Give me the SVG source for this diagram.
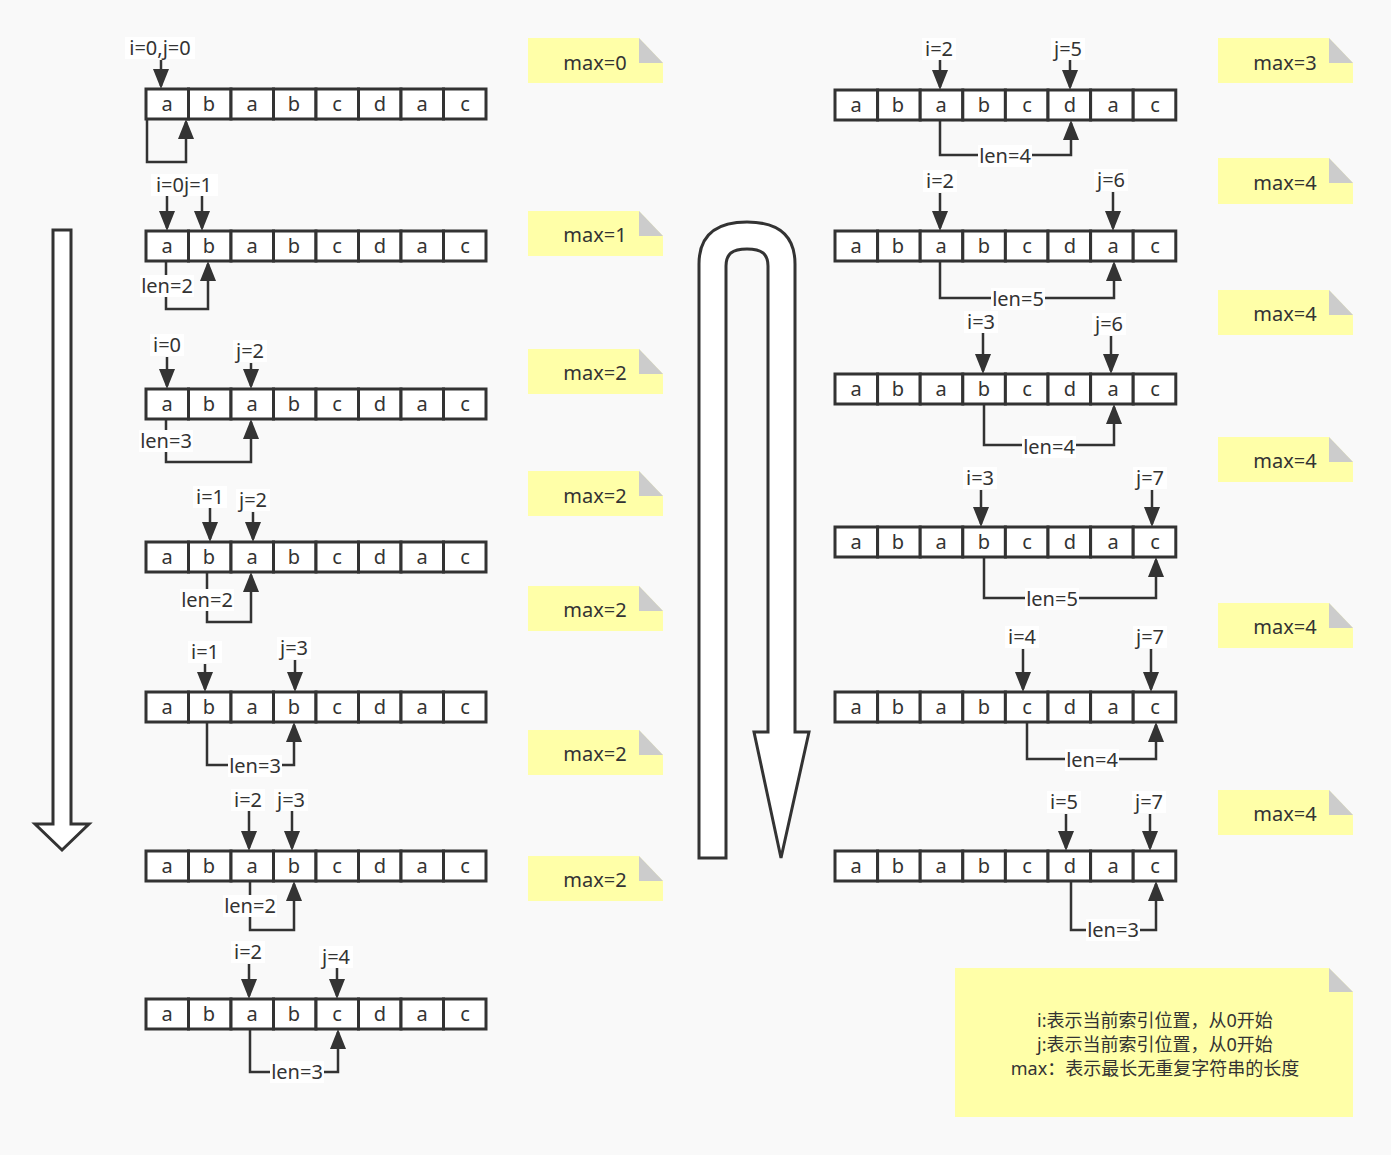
<svg xmlns="http://www.w3.org/2000/svg" width="1391" height="1155" viewBox="0 0 1391 1155">
<defs>
<style>
text{font-family:"Noto Sans","Noto Sans CJK SC",sans-serif;font-size:20px;fill:#333;text-anchor:middle}
.lg{font-size:18px}
.cell{fill:#fff;stroke:#333;stroke-width:3}
.note{fill:#ffffa8}
.fold{fill:#cccccc}
.lb{fill:#fff}
.edge{fill:none;stroke:#333;stroke-width:2.5;marker-end:url(#ah)}
.big{fill:#fff;stroke:#333;stroke-width:3;stroke-linejoin:miter}
</style>
<marker id="ah" viewBox="0 0 20 16" refX="17" refY="8" markerWidth="20" markerHeight="16" markerUnits="userSpaceOnUse" orient="auto">
<path d="M0,0 L20,8 L0,16 Z" fill="#333"/>
</marker>
</defs>
<rect width="1391" height="1155" fill="#f9f9f9"/>

<!-- big arrows -->
<g id="flow-left"><path class="big" d="M53,230 H71 V824 H89 L62,850 L35,824 H53 Z"/></g>
<g id="flow-u"><path class="big" d="M699,858 V264 C699,234 718,222 747,222 C776,222 795,234 795,264 V732 H809 L781,858 L754,732 H768 V266 C768,254 762,249 747,249 C732,249 726,254 726,266 V858 Z"/></g>

<!-- left arrays -->
<g id="arrL1">
<rect class="cell" x="146" y="89" width="42.5" height="30"/><rect class="cell" x="188.5" y="89" width="42.5" height="30"/><rect class="cell" x="231" y="89" width="42.5" height="30"/><rect class="cell" x="273.5" y="89" width="42.5" height="30"/><rect class="cell" x="316" y="89" width="42.5" height="30"/><rect class="cell" x="358.5" y="89" width="42.5" height="30"/><rect class="cell" x="401" y="89" width="42.5" height="30"/><rect class="cell" x="443.5" y="89" width="42.5" height="30"/>
<text x="167" y="111">a</text><text x="209" y="111">b</text><text x="252" y="111">a</text><text x="294" y="111">b</text><text x="337" y="111">c</text><text x="380" y="111">d</text><text x="422" y="111">a</text><text x="465" y="111">c</text>
</g>
<g id="arrL2">
<rect class="cell" x="146" y="231" width="42.5" height="30"/><rect class="cell" x="188.5" y="231" width="42.5" height="30"/><rect class="cell" x="231" y="231" width="42.5" height="30"/><rect class="cell" x="273.5" y="231" width="42.5" height="30"/><rect class="cell" x="316" y="231" width="42.5" height="30"/><rect class="cell" x="358.5" y="231" width="42.5" height="30"/><rect class="cell" x="401" y="231" width="42.5" height="30"/><rect class="cell" x="443.5" y="231" width="42.5" height="30"/>
<text x="167" y="253">a</text><text x="209" y="253">b</text><text x="252" y="253">a</text><text x="294" y="253">b</text><text x="337" y="253">c</text><text x="380" y="253">d</text><text x="422" y="253">a</text><text x="465" y="253">c</text>
</g>
<g id="arrL3">
<rect class="cell" x="146" y="389" width="42.5" height="30"/><rect class="cell" x="188.5" y="389" width="42.5" height="30"/><rect class="cell" x="231" y="389" width="42.5" height="30"/><rect class="cell" x="273.5" y="389" width="42.5" height="30"/><rect class="cell" x="316" y="389" width="42.5" height="30"/><rect class="cell" x="358.5" y="389" width="42.5" height="30"/><rect class="cell" x="401" y="389" width="42.5" height="30"/><rect class="cell" x="443.5" y="389" width="42.5" height="30"/>
<text x="167" y="411">a</text><text x="209" y="411">b</text><text x="252" y="411">a</text><text x="294" y="411">b</text><text x="337" y="411">c</text><text x="380" y="411">d</text><text x="422" y="411">a</text><text x="465" y="411">c</text>
</g>
<g id="arrL4">
<rect class="cell" x="146" y="542" width="42.5" height="30"/><rect class="cell" x="188.5" y="542" width="42.5" height="30"/><rect class="cell" x="231" y="542" width="42.5" height="30"/><rect class="cell" x="273.5" y="542" width="42.5" height="30"/><rect class="cell" x="316" y="542" width="42.5" height="30"/><rect class="cell" x="358.5" y="542" width="42.5" height="30"/><rect class="cell" x="401" y="542" width="42.5" height="30"/><rect class="cell" x="443.5" y="542" width="42.5" height="30"/>
<text x="167" y="564">a</text><text x="209" y="564">b</text><text x="252" y="564">a</text><text x="294" y="564">b</text><text x="337" y="564">c</text><text x="380" y="564">d</text><text x="422" y="564">a</text><text x="465" y="564">c</text>
</g>
<g id="arrL5">
<rect class="cell" x="146" y="692" width="42.5" height="30"/><rect class="cell" x="188.5" y="692" width="42.5" height="30"/><rect class="cell" x="231" y="692" width="42.5" height="30"/><rect class="cell" x="273.5" y="692" width="42.5" height="30"/><rect class="cell" x="316" y="692" width="42.5" height="30"/><rect class="cell" x="358.5" y="692" width="42.5" height="30"/><rect class="cell" x="401" y="692" width="42.5" height="30"/><rect class="cell" x="443.5" y="692" width="42.5" height="30"/>
<text x="167" y="714">a</text><text x="209" y="714">b</text><text x="252" y="714">a</text><text x="294" y="714">b</text><text x="337" y="714">c</text><text x="380" y="714">d</text><text x="422" y="714">a</text><text x="465" y="714">c</text>
</g>
<g id="arrL6">
<rect class="cell" x="146" y="851" width="42.5" height="30"/><rect class="cell" x="188.5" y="851" width="42.5" height="30"/><rect class="cell" x="231" y="851" width="42.5" height="30"/><rect class="cell" x="273.5" y="851" width="42.5" height="30"/><rect class="cell" x="316" y="851" width="42.5" height="30"/><rect class="cell" x="358.5" y="851" width="42.5" height="30"/><rect class="cell" x="401" y="851" width="42.5" height="30"/><rect class="cell" x="443.5" y="851" width="42.5" height="30"/>
<text x="167" y="873">a</text><text x="209" y="873">b</text><text x="252" y="873">a</text><text x="294" y="873">b</text><text x="337" y="873">c</text><text x="380" y="873">d</text><text x="422" y="873">a</text><text x="465" y="873">c</text>
</g>
<g id="arrL7">
<rect class="cell" x="146" y="999" width="42.5" height="30"/><rect class="cell" x="188.5" y="999" width="42.5" height="30"/><rect class="cell" x="231" y="999" width="42.5" height="30"/><rect class="cell" x="273.5" y="999" width="42.5" height="30"/><rect class="cell" x="316" y="999" width="42.5" height="30"/><rect class="cell" x="358.5" y="999" width="42.5" height="30"/><rect class="cell" x="401" y="999" width="42.5" height="30"/><rect class="cell" x="443.5" y="999" width="42.5" height="30"/>
<text x="167" y="1021">a</text><text x="209" y="1021">b</text><text x="252" y="1021">a</text><text x="294" y="1021">b</text><text x="337" y="1021">c</text><text x="380" y="1021">d</text><text x="422" y="1021">a</text><text x="465" y="1021">c</text>
</g>

<!-- right arrays -->
<g id="arrR1">
<rect class="cell" x="835" y="90" width="42.6" height="30"/><rect class="cell" x="877.6" y="90" width="42.6" height="30"/><rect class="cell" x="920.2" y="90" width="42.6" height="30"/><rect class="cell" x="962.8" y="90" width="42.6" height="30"/><rect class="cell" x="1005.4" y="90" width="42.6" height="30"/><rect class="cell" x="1048" y="90" width="42.6" height="30"/><rect class="cell" x="1090.6" y="90" width="42.6" height="30"/><rect class="cell" x="1133.2" y="90" width="42.6" height="30"/>
<text x="856" y="112">a</text><text x="898" y="112">b</text><text x="941" y="112">a</text><text x="984" y="112">b</text><text x="1027" y="112">c</text><text x="1070" y="112">d</text><text x="1113" y="112">a</text><text x="1155" y="112">c</text>
</g>
<g id="arrR2">
<rect class="cell" x="835" y="231" width="42.6" height="30"/><rect class="cell" x="877.6" y="231" width="42.6" height="30"/><rect class="cell" x="920.2" y="231" width="42.6" height="30"/><rect class="cell" x="962.8" y="231" width="42.6" height="30"/><rect class="cell" x="1005.4" y="231" width="42.6" height="30"/><rect class="cell" x="1048" y="231" width="42.6" height="30"/><rect class="cell" x="1090.6" y="231" width="42.6" height="30"/><rect class="cell" x="1133.2" y="231" width="42.6" height="30"/>
<text x="856" y="253">a</text><text x="898" y="253">b</text><text x="941" y="253">a</text><text x="984" y="253">b</text><text x="1027" y="253">c</text><text x="1070" y="253">d</text><text x="1113" y="253">a</text><text x="1155" y="253">c</text>
</g>
<g id="arrR3">
<rect class="cell" x="835" y="374" width="42.6" height="30"/><rect class="cell" x="877.6" y="374" width="42.6" height="30"/><rect class="cell" x="920.2" y="374" width="42.6" height="30"/><rect class="cell" x="962.8" y="374" width="42.6" height="30"/><rect class="cell" x="1005.4" y="374" width="42.6" height="30"/><rect class="cell" x="1048" y="374" width="42.6" height="30"/><rect class="cell" x="1090.6" y="374" width="42.6" height="30"/><rect class="cell" x="1133.2" y="374" width="42.6" height="30"/>
<text x="856" y="396">a</text><text x="898" y="396">b</text><text x="941" y="396">a</text><text x="984" y="396">b</text><text x="1027" y="396">c</text><text x="1070" y="396">d</text><text x="1113" y="396">a</text><text x="1155" y="396">c</text>
</g>
<g id="arrR4">
<rect class="cell" x="835" y="527" width="42.6" height="30"/><rect class="cell" x="877.6" y="527" width="42.6" height="30"/><rect class="cell" x="920.2" y="527" width="42.6" height="30"/><rect class="cell" x="962.8" y="527" width="42.6" height="30"/><rect class="cell" x="1005.4" y="527" width="42.6" height="30"/><rect class="cell" x="1048" y="527" width="42.6" height="30"/><rect class="cell" x="1090.6" y="527" width="42.6" height="30"/><rect class="cell" x="1133.2" y="527" width="42.6" height="30"/>
<text x="856" y="549">a</text><text x="898" y="549">b</text><text x="941" y="549">a</text><text x="984" y="549">b</text><text x="1027" y="549">c</text><text x="1070" y="549">d</text><text x="1113" y="549">a</text><text x="1155" y="549">c</text>
</g>
<g id="arrR5">
<rect class="cell" x="835" y="692" width="42.6" height="30"/><rect class="cell" x="877.6" y="692" width="42.6" height="30"/><rect class="cell" x="920.2" y="692" width="42.6" height="30"/><rect class="cell" x="962.8" y="692" width="42.6" height="30"/><rect class="cell" x="1005.4" y="692" width="42.6" height="30"/><rect class="cell" x="1048" y="692" width="42.6" height="30"/><rect class="cell" x="1090.6" y="692" width="42.6" height="30"/><rect class="cell" x="1133.2" y="692" width="42.6" height="30"/>
<text x="856" y="714">a</text><text x="898" y="714">b</text><text x="941" y="714">a</text><text x="984" y="714">b</text><text x="1027" y="714">c</text><text x="1070" y="714">d</text><text x="1113" y="714">a</text><text x="1155" y="714">c</text>
</g>
<g id="arrR6">
<rect class="cell" x="835" y="851" width="42.6" height="30"/><rect class="cell" x="877.6" y="851" width="42.6" height="30"/><rect class="cell" x="920.2" y="851" width="42.6" height="30"/><rect class="cell" x="962.8" y="851" width="42.6" height="30"/><rect class="cell" x="1005.4" y="851" width="42.6" height="30"/><rect class="cell" x="1048" y="851" width="42.6" height="30"/><rect class="cell" x="1090.6" y="851" width="42.6" height="30"/><rect class="cell" x="1133.2" y="851" width="42.6" height="30"/>
<text x="856" y="873">a</text><text x="898" y="873">b</text><text x="941" y="873">a</text><text x="984" y="873">b</text><text x="1027" y="873">c</text><text x="1070" y="873">d</text><text x="1113" y="873">a</text><text x="1155" y="873">c</text>
</g>

<!-- connectors -->
<g id="connectors">
<path class="edge" d="M161,60 V86"/><path class="edge" d="M147,119 V162 H186 V122"/>
<path class="edge" d="M167,195 V228"/><path class="edge" d="M202,195 V228"/><path class="edge" d="M166,261 V309 H208 V264"/>
<path class="edge" d="M167,357 V386"/><path class="edge" d="M251,363 V386"/><path class="edge" d="M166,419 V462 H251 V422"/>
<path class="edge" d="M210,508 V539"/><path class="edge" d="M253,512 V539"/><path class="edge" d="M207,572 V622 H251 V575"/>
<path class="edge" d="M205,664 V689"/><path class="edge" d="M295,660 V689"/><path class="edge" d="M207,722 V765 H294 V725"/>
<path class="edge" d="M249,811 V848"/><path class="edge" d="M292,811 V848"/><path class="edge" d="M250,881 V930 H294 V884"/>
<path class="edge" d="M249,964 V996"/><path class="edge" d="M337,968 V996"/><path class="edge" d="M250,1029 V1072 H338 V1032"/>
<path class="edge" d="M940,60 V87"/><path class="edge" d="M1070,60 V87"/><path class="edge" d="M940,120 V155 H1071 V123"/>
<path class="edge" d="M940,193 V228"/><path class="edge" d="M1113,192 V228"/><path class="edge" d="M940,261 V298 H1114 V264"/>
<path class="edge" d="M983,333 V371"/><path class="edge" d="M1111,336 V371"/><path class="edge" d="M984,404 V445 H1114 V407"/>
<path class="edge" d="M981,490 V524"/><path class="edge" d="M1152,490 V524"/><path class="edge" d="M984,557 V598 H1156 V560"/>
<path class="edge" d="M1023,649 V689"/><path class="edge" d="M1151,649 V689"/><path class="edge" d="M1027,722 V759 H1156 V725"/>
<path class="edge" d="M1066,814 V848"/><path class="edge" d="M1150,814 V848"/><path class="edge" d="M1071,881 V930 H1156 V884"/>
</g>

<!-- pointer labels -->
<g id="labels">
<rect class="lb" x="125" y="37" width="70" height="22"/><text x="160" y="55">i=0,j=0</text>
<rect class="lb" x="151" y="174" width="67" height="22"/><text x="184" y="192">i=0j=1</text>
<rect class="lb" x="150" y="334" width="34" height="22"/><text x="167" y="352">i=0</text>
<rect class="lb" x="233" y="340" width="34" height="22"/><text x="250" y="358">j=2</text>
<rect class="lb" x="193" y="486" width="34" height="22"/><text x="210" y="504">i=1</text>
<rect class="lb" x="236" y="489" width="34" height="22"/><text x="253" y="507">j=2</text>
<rect class="lb" x="188" y="641" width="34" height="22"/><text x="205" y="659">i=1</text>
<rect class="lb" x="277" y="637" width="34" height="22"/><text x="294" y="655">j=3</text>
<rect class="lb" x="231" y="789" width="34" height="22"/><text x="248" y="807">i=2</text>
<rect class="lb" x="274" y="789" width="34" height="22"/><text x="291" y="807">j=3</text>
<rect class="lb" x="231" y="941" width="34" height="22"/><text x="248" y="959">i=2</text>
<rect class="lb" x="319" y="946" width="34" height="22"/><text x="336" y="964">j=4</text>
<rect class="lb" x="922" y="38" width="34" height="22"/><text x="939" y="56">i=2</text>
<rect class="lb" x="1051" y="38" width="34" height="22"/><text x="1068" y="56">j=5</text>
<rect class="lb" x="923" y="170" width="34" height="22"/><text x="940" y="188">i=2</text>
<rect class="lb" x="1094" y="169" width="34" height="22"/><text x="1111" y="187">j=6</text>
<rect class="lb" x="964" y="311" width="34" height="22"/><text x="981" y="329">i=3</text>
<rect class="lb" x="1092" y="313" width="34" height="22"/><text x="1109" y="331">j=6</text>
<rect class="lb" x="963" y="467" width="34" height="22"/><text x="980" y="485">i=3</text>
<rect class="lb" x="1133" y="467" width="34" height="22"/><text x="1150" y="485">j=7</text>
<rect class="lb" x="1005" y="626" width="34" height="22"/><text x="1022" y="644">i=4</text>
<rect class="lb" x="1133" y="626" width="34" height="22"/><text x="1150" y="644">j=7</text>
<rect class="lb" x="1047" y="791" width="34" height="22"/><text x="1064" y="809">i=5</text>
<rect class="lb" x="1132" y="791" width="34" height="22"/><text x="1149" y="809">j=7</text>
<!-- len labels -->
<rect class="lb" x="140" y="275" width="54" height="22"/><text x="167" y="293">len=2</text>
<rect class="lb" x="139" y="430" width="54" height="22"/><text x="166" y="448">len=3</text>
<rect class="lb" x="180" y="589" width="54" height="22"/><text x="207" y="607">len=2</text>
<rect class="lb" x="228" y="755" width="54" height="22"/><text x="255" y="773">len=3</text>
<rect class="lb" x="223" y="895" width="54" height="22"/><text x="250" y="913">len=2</text>
<rect class="lb" x="270" y="1061" width="54" height="22"/><text x="297" y="1079">len=3</text>
<rect class="lb" x="978" y="145" width="54" height="22"/><text x="1005" y="163">len=4</text>
<rect class="lb" x="991" y="288" width="54" height="22"/><text x="1018" y="306">len=5</text>
<rect class="lb" x="1022" y="436" width="54" height="22"/><text x="1049" y="454">len=4</text>
<rect class="lb" x="1025" y="588" width="54" height="22"/><text x="1052" y="606">len=5</text>
<rect class="lb" x="1065" y="749" width="54" height="22"/><text x="1092" y="767">len=4</text>
<rect class="lb" x="1086" y="919" width="54" height="22"/><text x="1113" y="937">len=3</text>
</g>

<!-- max notes -->
<g id="maxL1"><path class="note" d="M528,38 H639 L663,63 V83 H528 Z"/><path class="fold" d="M639,38 V63 H663 Z"/><text x="595" y="70">max=0</text></g>
<g id="maxL2"><path class="note" d="M528,211 H639 L663,236 V256 H528 Z"/><path class="fold" d="M639,211 V236 H663 Z"/><text x="595" y="242">max=1</text></g>
<g id="maxL3"><path class="note" d="M528,349 H639 L663,374 V394 H528 Z"/><path class="fold" d="M639,349 V374 H663 Z"/><text x="595" y="380">max=2</text></g>
<g id="maxL4"><path class="note" d="M528,471 H639 L663,496 V516 H528 Z"/><path class="fold" d="M639,471 V496 H663 Z"/><text x="595" y="503">max=2</text></g>
<g id="maxL5"><path class="note" d="M528,586 H639 L663,611 V631 H528 Z"/><path class="fold" d="M639,586 V611 H663 Z"/><text x="595" y="617">max=2</text></g>
<g id="maxL6"><path class="note" d="M528,730 H639 L663,755 V775 H528 Z"/><path class="fold" d="M639,730 V755 H663 Z"/><text x="595" y="761">max=2</text></g>
<g id="maxL7"><path class="note" d="M528,856 H639 L663,881 V901 H528 Z"/><path class="fold" d="M639,856 V881 H663 Z"/><text x="595" y="887">max=2</text></g>
<g id="maxR1"><path class="note" d="M1218,38 H1329 L1353,63 V83 H1218 Z"/><path class="fold" d="M1329,38 V63 H1353 Z"/><text x="1285" y="70">max=3</text></g>
<g id="maxR2"><path class="note" d="M1218,158 H1329 L1353,183 V204 H1218 Z"/><path class="fold" d="M1329,158 V183 H1353 Z"/><text x="1285" y="190">max=4</text></g>
<g id="maxR3"><path class="note" d="M1218,290 H1329 L1353,315 V335 H1218 Z"/><path class="fold" d="M1329,290 V315 H1353 Z"/><text x="1285" y="321">max=4</text></g>
<g id="maxR4"><path class="note" d="M1218,437 H1329 L1353,462 V482 H1218 Z"/><path class="fold" d="M1329,437 V462 H1353 Z"/><text x="1285" y="468">max=4</text></g>
<g id="maxR5"><path class="note" d="M1218,603 H1329 L1353,628 V648 H1218 Z"/><path class="fold" d="M1329,603 V628 H1353 Z"/><text x="1285" y="634">max=4</text></g>
<g id="maxR6"><path class="note" d="M1218,790 H1329 L1353,815 V835 H1218 Z"/><path class="fold" d="M1329,790 V815 H1353 Z"/><text x="1285" y="821">max=4</text></g>

<!-- legend -->
<g id="legend"><path class="note" d="M955,968 H1329 L1353,992 V1117 H955 Z"/><path class="fold" d="M1329,968 V992 H1353 Z"/>
<text class="lg" x="1155" y="1027">i:表示当前索引位置，从0开始</text>
<text class="lg" x="1155" y="1051">j:表示当前索引位置，从0开始</text>
<text class="lg" x="1155" y="1075">max：表示最长无重复字符串的长度</text>
</g>
</svg>
